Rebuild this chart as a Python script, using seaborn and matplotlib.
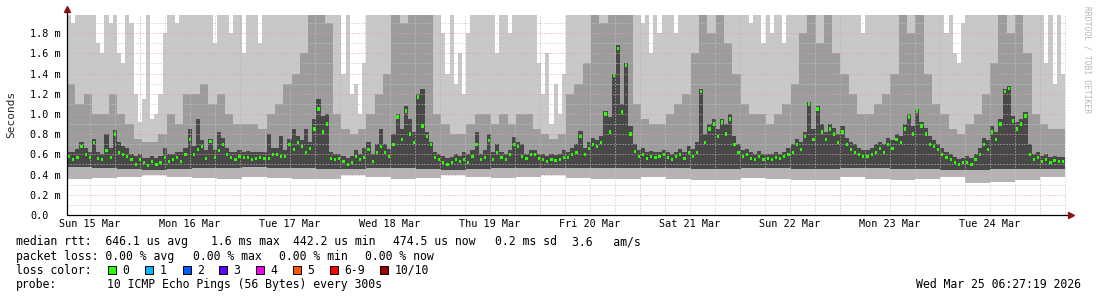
import numpy as np
import matplotlib
matplotlib.use("Agg")
import matplotlib.pyplot as plt
from matplotlib.patches import Rectangle
import seaborn as sns

# ---------------- data ----------------
# hourly median rtt (ms), 240 hours starting Sun 15 Mar 06:27
median_rtt = [
    0.58, 0.55, 0.57, 0.68, 0.60, 0.57, 0.72, 0.56, 0.55, 0.64, 0.57, 0.80, 0.62, 0.60, 0.58, 0.55, 0.50, 0.55, 0.52, 0.49, 0.53, 0.50, 0.52, 0.57,
    0.53, 0.55, 0.57, 0.53, 0.60, 0.75, 0.60, 0.65, 0.68, 0.56, 0.73, 0.57, 0.64, 0.70, 0.60, 0.57, 0.55, 0.58, 0.57, 0.57, 0.55, 0.56, 0.57, 0.56,
    0.56, 0.60, 0.60, 0.58, 0.58, 0.70, 0.65, 0.72, 0.68, 0.62, 0.66, 0.85, 1.05, 0.82, 0.90, 0.56, 0.55, 0.56, 0.53, 0.50, 0.52, 0.58, 0.55, 0.57,
    0.65, 0.53, 0.62, 0.68, 0.62, 0.58, 0.70, 0.97, 0.75, 1.03, 0.80, 0.72, 1.17, 0.88, 0.78, 0.70, 0.57, 0.55, 0.52, 0.50, 0.52, 0.55, 0.53, 0.55,
    0.52, 0.58, 0.70, 0.55, 0.57, 0.74, 0.55, 0.62, 0.57, 0.55, 0.60, 0.70, 0.68, 0.58, 0.56, 0.60, 0.60, 0.56, 0.55, 0.53, 0.55, 0.54, 0.55, 0.57,
    0.57, 0.60, 0.62, 0.78, 0.60, 0.66, 0.70, 0.68, 0.72, 1.00, 0.82, 1.38, 1.65, 1.02, 1.48, 0.80, 0.63, 0.58, 0.60, 0.56, 0.58, 0.57, 0.58, 0.60,
    0.57, 0.55, 0.58, 0.60, 0.56, 0.62, 0.58, 0.62, 1.22, 0.72, 0.85, 0.90, 0.78, 0.92, 0.80, 0.95, 0.70, 0.62, 0.58, 0.60, 0.56, 0.55, 0.58, 0.55,
    0.56, 0.55, 0.57, 0.56, 0.58, 0.60, 0.62, 0.70, 0.65, 0.78, 1.10, 0.75, 1.05, 0.82, 0.75, 0.85, 0.80, 0.72, 0.82, 0.70, 0.65, 0.62, 0.60, 0.58,
    0.58, 0.60, 0.62, 0.66, 0.62, 0.70, 0.66, 0.75, 0.72, 0.85, 0.97, 0.80, 1.03, 0.88, 0.80, 0.70, 0.68, 0.65, 0.60, 0.57, 0.55, 0.52, 0.50, 0.52,
    0.52, 0.50, 0.55, 0.60, 0.70, 0.65, 0.82, 0.75, 0.90, 1.22, 1.25, 0.93, 0.85, 0.90, 0.98, 0.60, 0.55, 0.57, 0.53, 0.55, 0.52, 0.54, 0.53, 0.53,
]
# hourly upper edge of the dark smoke band (ms)
smoke_dark_top = [
    0.62, 0.62, 0.65, 0.72, 0.66, 0.62, 0.75, 0.62, 0.60, 0.80, 0.66, 0.84, 0.72, 0.68, 0.66, 0.60, 0.58, 0.60, 0.56, 0.56, 0.58, 0.56, 0.58, 0.66,
    0.60, 0.60, 0.62, 0.62, 0.66, 0.85, 0.68, 0.95, 0.74, 0.64, 0.75, 0.64, 0.82, 0.76, 0.66, 0.62, 0.62, 0.64, 0.62, 0.63, 0.62, 0.62, 0.62, 0.62,
    0.80, 0.66, 0.66, 0.78, 0.64, 0.75, 0.85, 0.78, 0.74, 0.85, 0.72, 0.95, 1.15, 0.98, 1.00, 0.62, 0.60, 0.60, 0.58, 0.56, 0.58, 0.64, 0.60, 0.66,
    0.72, 0.60, 0.70, 0.85, 0.70, 0.65, 0.80, 1.00, 0.85, 1.08, 0.95, 0.82, 1.20, 1.25, 0.82, 0.72, 0.62, 0.60, 0.58, 0.56, 0.57, 0.60, 0.58, 0.62,
    0.60, 0.64, 0.82, 0.60, 0.64, 0.80, 0.62, 0.70, 0.62, 0.60, 0.64, 0.77, 0.72, 0.70, 0.60, 0.64, 0.64, 0.60, 0.60, 0.58, 0.60, 0.59, 0.60, 0.64,
    0.62, 0.66, 0.70, 0.83, 0.66, 0.72, 0.76, 0.74, 0.78, 1.03, 0.97, 1.40, 1.68, 1.10, 1.50, 0.88, 0.70, 0.64, 0.66, 0.62, 0.63, 0.62, 0.62, 0.64,
    0.62, 0.60, 0.62, 0.65, 0.62, 0.68, 0.65, 0.72, 1.25, 0.80, 0.90, 0.95, 0.85, 0.95, 0.90, 1.00, 0.78, 0.70, 0.64, 0.65, 0.62, 0.60, 0.63, 0.60,
    0.60, 0.60, 0.62, 0.60, 0.62, 0.66, 0.70, 0.75, 0.72, 0.82, 1.12, 0.85, 1.08, 0.90, 0.82, 0.90, 0.86, 0.80, 0.88, 0.76, 0.72, 0.70, 0.66, 0.64,
    0.64, 0.66, 0.70, 0.72, 0.70, 0.76, 0.74, 0.80, 0.78, 0.90, 1.00, 0.88, 1.05, 0.92, 0.86, 0.78, 0.74, 0.70, 0.66, 0.62, 0.60, 0.57, 0.55, 0.56,
    0.58, 0.56, 0.60, 0.66, 0.76, 0.74, 0.88, 0.82, 0.95, 1.25, 1.28, 0.98, 0.92, 0.95, 1.02, 0.70, 0.60, 0.62, 0.58, 0.60, 0.57, 0.58, 0.57, 0.57,
]
# hourly max ping (ms); values above the axis top are clipped
smoke_max = [
    2.5, 1.9, 2.5, 2.5, 2.5, 2.5, 2.5, 1.7, 1.6, 2.5, 1.9, 2.5, 1.6, 1.5, 2.5, 1.9, 1.2, 0.92, 1.15, 2.5, 0.95, 1.0, 1.2, 1.8,
    2.5, 2.5, 1.9, 2.5, 2.5, 2.5, 2.5, 2.5, 2.5, 2.5, 2.5, 1.7, 2.5, 2.5, 2.5, 1.8, 2.5, 2.5, 1.6, 2.5, 2.5, 2.5, 1.7, 2.5,
    2.5, 2.5, 2.5, 2.5, 2.5, 2.5, 2.5, 2.5, 2.5, 2.5, 2.5, 2.5, 2.5, 2.5, 2.5, 2.5, 2.5, 2.5, 1.4, 2.5, 1.2, 1.3, 1.0, 1.5,
    2.5, 2.5, 2.5, 2.5, 2.5, 2.5, 2.5, 2.5, 2.5, 2.5, 2.5, 2.5, 2.5, 2.5, 2.5, 2.5, 2.5, 2.5, 1.8, 1.4, 2.5, 1.3, 1.6, 1.2,
    1.8, 2.5, 2.5, 2.5, 2.5, 2.5, 2.5, 1.6, 2.5, 2.5, 1.8, 2.5, 2.5, 2.5, 2.5, 2.5, 2.5, 1.5, 1.2, 1.6, 0.9, 1.3, 1.0, 1.4,
    2.5, 2.5, 2.5, 2.5, 2.5, 2.5, 2.5, 2.5, 2.5, 2.5, 2.5, 2.5, 2.5, 2.5, 2.5, 2.5, 2.5, 2.5, 1.9, 2.5, 1.6, 2.5, 1.8, 2.5,
    2.5, 2.5, 1.8, 2.5, 2.5, 2.5, 2.5, 2.5, 2.5, 2.5, 2.5, 2.5, 2.5, 2.5, 2.5, 2.5, 2.5, 2.5, 2.5, 2.5, 1.9, 2.5, 2.5, 1.7,
    2.5, 1.8, 2.5, 2.5, 1.7, 2.5, 2.5, 2.5, 2.5, 2.5, 2.5, 2.5, 2.5, 2.5, 2.5, 2.5, 2.5, 2.5, 2.5, 2.5, 2.5, 2.5, 2.5, 1.8,
    2.5, 2.5, 2.5, 2.5, 2.5, 2.5, 2.5, 2.5, 2.5, 2.5, 2.5, 2.5, 2.5, 2.5, 2.5, 2.5, 2.5, 2.5, 2.5, 1.8, 2.5, 1.6, 1.5, 1.9,
    2.5, 2.5, 2.5, 2.5, 2.5, 2.5, 2.5, 2.5, 2.5, 2.5, 2.5, 2.5, 2.5, 2.5, 2.5, 2.5, 2.5, 2.5, 2.5, 1.5, 2.5, 1.3, 2.5, 1.4,
]
# 2-hourly upper edge of the medium grey smoke (ms)
smoke_mid_top = [
    1.3, 1.1, 1.2, 1.0, 1.0, 1.2, 1.0, 0.9, 0.75, 0.72, 0.72, 0.8,
    1.0, 0.9, 1.2, 1.2, 1.3, 1.1, 1.2, 1.0, 0.9, 0.9, 0.9, 0.85,
    1.0, 1.1, 1.3, 1.4, 1.6, 2.5, 2.5, 1.9, 1.0, 0.85, 0.8, 0.85,
    1.0, 1.2, 1.4, 2.5, 1.9, 2.5, 2.5, 2.5, 1.0, 0.9, 0.8, 0.8,
    0.9, 1.0, 1.0, 0.9, 1.0, 0.9, 1.0, 1.0, 0.85, 0.8, 0.75, 0.8,
    1.2, 1.3, 1.5, 2.5, 1.9, 2.5, 2.5, 2.5, 1.1, 0.95, 0.9, 0.9,
    1.0, 1.1, 1.2, 1.6, 2.5, 1.8, 2.5, 1.7, 1.4, 1.1, 1.0, 1.0,
    0.9, 1.0, 1.1, 1.3, 1.8, 2.5, 1.7, 2.5, 1.6, 1.4, 1.2, 1.0,
    1.0, 1.1, 1.2, 1.4, 2.5, 1.8, 2.5, 1.4, 1.1, 1.0, 0.85, 0.8,
    0.9, 1.0, 1.2, 1.5, 2.5, 1.8, 2.5, 1.6, 1.0, 0.9, 0.85, 0.85,
]
# 6-hourly min ping and lower edge of the dark band (ms)
smoke_min = [
    0.36, 0.37, 0.38, 0.40, 0.38, 0.37, 0.36, 0.38, 0.37, 0.36, 0.36, 0.40,
    0.38, 0.36, 0.37, 0.40, 0.38, 0.37, 0.38, 0.40, 0.37, 0.36, 0.36, 0.38,
    0.36, 0.35, 0.35, 0.37, 0.36, 0.35, 0.35, 0.38, 0.36, 0.35, 0.36, 0.38,
    0.32, 0.33, 0.35, 0.38,
]
smoke_dark_bottom = [
    0.48, 0.47, 0.46, 0.45, 0.46, 0.47, 0.47, 0.48, 0.47, 0.47, 0.46, 0.46,
    0.47, 0.47, 0.46, 0.45, 0.46, 0.47, 0.47, 0.47, 0.47, 0.47, 0.47, 0.47,
    0.47, 0.46, 0.46, 0.47, 0.47, 0.46, 0.46, 0.47, 0.47, 0.46, 0.46, 0.45,
    0.45, 0.46, 0.46, 0.46,
]

day_labels = ["Sun 15 Mar", "Mon 16 Mar", "Tue 17 Mar", "Wed 18 Mar", "Thu 19 Mar",
              "Fri 20 Mar", "Sat 21 Mar", "Sun 22 Mar", "Mon 23 Mar", "Tue 24 Mar"]
y_values = [0.0, 0.2, 0.4, 0.6, 0.8, 1.0, 1.2, 1.4, 1.6, 1.8]
y_labels = ["0.0", "0.2 m", "0.4 m", "0.6 m", "0.8 m", "1.0 m", "1.2 m", "1.4 m", "1.6 m", "1.8 m"]

loss_names = ["0", "1", "2", "3", "4", "5", "6-9", "10/10"]
loss_colors = ["#26ff00", "#00b8ff", "#0059ff", "#5e00ff", "#ee00ee", "#ff5500", "#ff0000", "#a00000"]

# ---------------- figure ----------------
sns.set_style("white")
plt.rcParams['font.family'] = ['DejaVu Sans Mono', 'DejaVu Sans']

W, H = 1097, 297
fig = plt.figure(figsize=(W / 100, H / 100), dpi=100)
fig.patch.set_facecolor("white")
L, R, T, B = 67, 1065, 15, 215
ax = fig.add_axes([L / W, (H - B) / H, (R - L) / W, (B - T) / H])
ax.set_facecolor("white")

start_h = 6.46    # hours after Sun 15 Mar 00:00
end_h = 245.98
n = len(median_rtt)
step = (end_h - start_h) / n
edges = start_h + step * np.arange(n + 1)
centers = edges[:-1] + step / 2

med = np.array(median_rtt)
q3 = np.array(smoke_dark_top)
lo = np.repeat(smoke_min, 6)
q1 = np.repeat(smoke_dark_bottom, 6)
q9 = np.maximum(np.repeat(smoke_mid_top, 2), q3)
hi = np.maximum(np.array(smoke_max), q9)

ax.stairs(q1, edges, baseline=lo, fill=True, facecolor="#b4b4b4", edgecolor="none", linewidth=0, zorder=1)
ax.stairs(q3, edges, baseline=q1, fill=True, facecolor="#484848", edgecolor="none", linewidth=0, zorder=1)
ax.stairs(q9, edges, baseline=q3, fill=True, facecolor="#9c9c9c", edgecolor="none", linewidth=0, zorder=1)
ax.stairs(hi, edges, baseline=q9, fill=True, facecolor="#c8c8c8", edgecolor="none", linewidth=0, zorder=1)

ymax = 1.98
ax.set_xlim(start_h, end_h)
ax.set_ylim(0, ymax)

# grid (drawn over the smoke, like rrdtool)
dots = (0, (1, 2))
minor_c, major_c = "#c4c4c4", "#e0a0a0"
for k in range(1, 20):
    v = k * 0.1
    if v >= ymax:
        break
    c = major_c if k % 2 == 0 else minor_c
    ax.axhline(v, color=c, lw=0.72, linestyle=dots, zorder=2)
h = 12
while h <= 246.01:
    c = major_c if h % 24 == 0 else minor_c
    ax.axvline(h, color=c, lw=0.72, linestyle=dots, zorder=2, clip_on=False)
    h += 6

# median marks
rect = [(-0.65, -1), (0.65, -1), (0.65, 1), (-0.65, 1), (-0.65, -1)]
sns.scatterplot(x=centers, y=med, ax=ax, marker=rect, s=6, color="#26ff00",
                edgecolor="none", linewidth=0, zorder=5, legend=False)

# axes lines and arrows
for s in ax.spines.values():
    s.set_visible(False)
ax.plot([start_h, 246.7], [0, 0], color="black", lw=0.9, clip_on=False, zorder=6)
ax.plot([start_h, start_h], [0, 2.02], color="black", lw=0.9, clip_on=False, zorder=6)
ax.plot([247.4], [0], marker=">", ms=4, color="#8b1010", clip_on=False, zorder=7)
ax.plot([start_h], [2.04], marker="^", ms=4, color="#8b1010", clip_on=False, zorder=7)

# ticks
ax.set_yticks(y_values)
ax.set_yticklabels(y_labels)
for lab in ax.get_yticklabels():
    lab.set_horizontalalignment("left")
ax.tick_params(axis="y", length=0, pad=37 * 0.72, labelsize=7.3, colors="black")
ax.set_xticks([12 + 24 * i for i in range(len(day_labels))])
ax.set_xticklabels(day_labels)
ax.tick_params(axis="x", length=0, pad=3.2, labelsize=7.3, colors="black")

fig.text(11 / W, 1 - 114 / H, "Seconds", rotation=90, ha="center", va="center", fontsize=8)
fig.text(1087 / W, 1 - 60 / H, "RRDTOOL / TOBI OETIKER", rotation=270, ha="center", va="center",
         fontsize=5.8, color="#b8b8b8")

# legend text
fs = 8.3
def t(x, ybase, s, ha="left"):
    fig.text(x / W, 1 - ybase / H, s, ha=ha, va="baseline", fontsize=fs, color="black")

y1, y2, y3, y4 = 245.4, 259.6, 273.8, 288.0
t(16, y1, "median rtt:  646.1 us avg")
t(211, y1, "1.6 ms max")
t(293, y1, "442.2 us min")
t(393, y1, "474.5 us now")
t(495, y1, "0.2 ms sd")
t(572, y1, "3.6   am/s")
t(16, y2, "packet loss: 0.00 % avg")
t(193, y2, "0.00 % max")
t(279, y2, "0.00 % min")
t(365, y2, "0.00 % now")
t(16, y3, "loss color:")
bx = [107.5, 145, 182.5, 219, 256, 293, 330, 380]
for x0, name, col in zip(bx, loss_names, loss_colors):
    fig.patches.append(Rectangle((x0 / W, 1 - 273.5 / H), 8 / W, 8 / H, transform=fig.transFigure,
                                 facecolor=col, edgecolor="black", linewidth=0.7))
    t(x0 + 14.5, y3, name)
t(16, y4, "probe:")
t(107, y4, "10 ICMP Echo Pings (56 Bytes) every 300s")
t(1081, y4, "Wed Mar 25 06:27:19 2026", ha="right")

fig.savefig("out.png", dpi=100, facecolor="white")
